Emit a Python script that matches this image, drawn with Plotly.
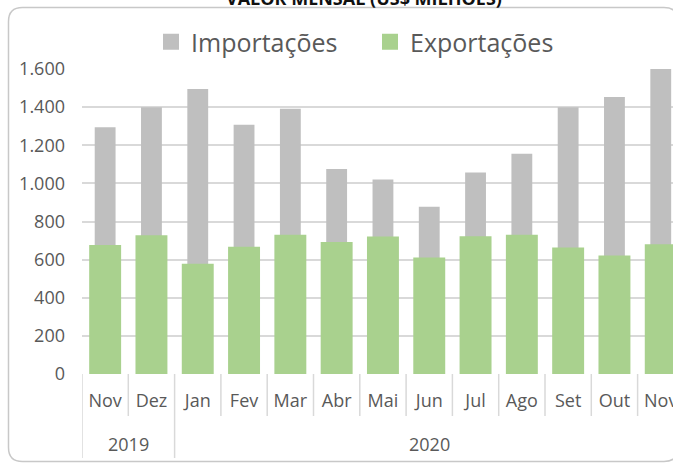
import re
import plotly.graph_objects as go

# Monthly values, US$ millions
months = ["Nov", "Dez", "Jan", "Fev", "Mar", "Abr", "Mai", "Jun", "Jul", "Ago", "Set", "Out", "Nov"]
years = ["2019", "2019", "2020", "2020", "2020", "2020", "2020", "2020", "2020", "2020", "2020", "2020", "2020"]
importacoes = [1295, 1400, 1495, 1308, 1392, 1075, 1020, 878, 1057, 1155, 1400, 1453, 1600]
exportacoes = [677, 728, 579, 667, 731, 693, 721, 611, 723, 731, 664, 621, 681]
y_ticks = [0, 200, 400, 600, 800, 1000, 1200, 1400, 1600]

W, H = 673, 463
GRAY = "#BFBFBF"
GREEN = "#A9D18E"
TEXT = "#595959"
LINE = "#D9D9D9"
FONT = "Open Sans"

# plot area in pixels
px_left, px_top, px_bottom = 82, 69, 374
cat_w = 46.3
x_idx = list(range(len(months)))


def py(p):
    return (H - p) / H


fig = go.Figure()

fig.add_trace(go.Bar(
    x=x_idx, y=importacoes, width=0.45, marker=dict(color=GRAY, line=dict(width=0)),
    name="Importações", showlegend=False, hoverinfo="y",
))
fig.add_trace(go.Bar(
    x=x_idx, y=exportacoes, width=0.69, marker=dict(color=GREEN, line=dict(width=0)),
    name="Exportações", showlegend=False, hoverinfo="y",
))

# legend swatches
for name, col in [("Importações", GRAY), ("Exportações", GREEN)]:
    fig.add_trace(go.Scatter(
        x=[None], y=[None], mode="markers", name=name,
        marker=dict(symbol="square", size=19, color=col),
    ))

x_end = -0.5 + (W - px_left) / cat_w

shapes = []
# category separators below the axis; longer ones where the year changes
for b in range(len(months) + 1):
    pos = b - 0.5
    year_break = b == 0 or b == len(months) or years[b] != years[b - 1]
    shapes.append(dict(
        type="line", xref="x", yref="paper", x0=pos, x1=pos,
        y0=py(px_bottom), y1=py(458 if year_break else 416),
        line=dict(color=LINE, width=1.5), layer="above",
    ))

# rounded chart frame (pixel path, converted to paper fractions)
l, t, r, btm, rad = 8.5, 7.5, 678, 461.5, 14
path = (
    f"M {l+rad},{t} L {r-rad},{t} Q {r},{t} {r},{t+rad} L {r},{btm-rad} "
    f"Q {r},{btm} {r-rad},{btm} L {l+rad},{btm} Q {l},{btm} {l},{btm-rad} "
    f"L {l},{t+rad} Q {l},{t} {l+rad},{t} Z"
)


def to_paper(m):
    xs, ys = float(m.group(1)), float(m.group(2))
    return f"{xs / W:.5f},{py(ys):.5f}"


paper_path = re.sub(r"(-?[\d.]+),(-?[\d.]+)", to_paper, path)
shapes.append(dict(type="path", xref="paper", yref="paper", path=paper_path,
                   line=dict(color="#C8C8C8", width=1.5), layer="above"))

annotations = []
# year group labels
for yr in dict.fromkeys(years):
    idx = [i for i, v in enumerate(years) if v == yr]
    annotations.append(dict(
        x=sum(idx) / len(idx), y=py(444), xref="x", yref="paper",
        text=yr, showarrow=False, xanchor="center", yanchor="middle",
        font=dict(family=FONT, size=18, color=TEXT),
    ))
# chart title
annotations.append(dict(
    x=364 / W, y=py(-2), xref="paper", yref="paper",
    text="<b>VALOR MENSAL (US$ MILHÕES)</b>", showarrow=False,
    xanchor="center", yanchor="middle",
    font=dict(family=FONT, size=18, color="#111111"),
))

fig.update_layout(
    width=W, height=H,
    margin=dict(l=0, r=0, t=0, b=0, autoexpand=False),
    paper_bgcolor="white", plot_bgcolor="white",
    barmode="overlay",
    separators=",.",
    font=dict(family=FONT, color=TEXT),
    showlegend=True,
    legend=dict(
        orientation="h", x=151 / W, xanchor="left", y=py(42), yanchor="middle",
        font=dict(family=FONT, size=25, color=TEXT),
        entrywidth=174, bgcolor="rgba(0,0,0,0)", itemclick=False,
    ),
    xaxis=dict(
        domain=[px_left / W, 1], range=[-0.5, x_end],
        tickmode="array", tickvals=x_idx, ticktext=months,
        ticks="", ticklabelstandoff=14, ticklabeloverflow="allow",
        tickfont=dict(family=FONT, size=18, color=TEXT),
        showgrid=False, zeroline=False, showline=False, automargin=False,
    ),
    yaxis=dict(
        domain=[py(px_bottom), py(px_top)], range=[0, 1600],
        tickmode="array", tickvals=y_ticks, tickformat=",d",
        ticks="", ticklabelstandoff=16,
        tickfont=dict(family=FONT, size=18, color=TEXT),
        showgrid=True, gridcolor=LINE, gridwidth=1.5,
        zeroline=False, showline=False, automargin=False,
    ),
    shapes=shapes,
    annotations=annotations,
)

fig.write_html("out.html")
